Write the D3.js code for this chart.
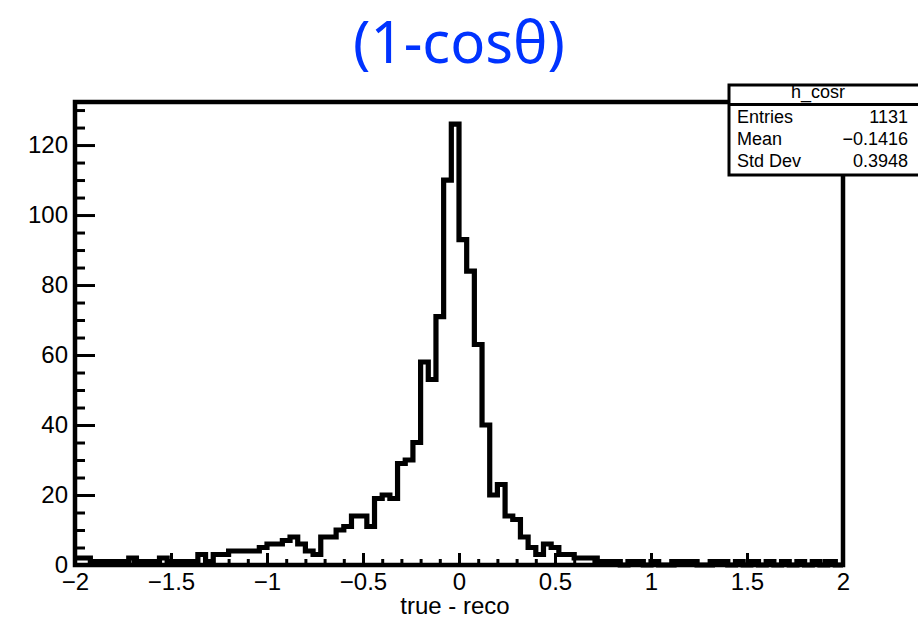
<!DOCTYPE html>
<html>
<head>
<meta charset="utf-8">
<script src="https://cdn.jsdelivr.net/npm/d3@7"></script>
<style>
  html, body { margin: 0; padding: 0; background: #fff; }
  svg { display: block; }
</style>
</head>
<body>
<svg id="chart" width="918" height="624"></svg>
<script>
// ---- data ----
const binLow = -2, binHigh = 2, nBins = 100;
const counts = [
  2,2,1,1,1,1,1,2,1,1, 1,2,1,1,1,1,3,1,3,3,
  4,4,4,4,5,6,6,7,8,6, 4,3,8,8,10,11,14,14,11,19,
  20,19,29,30,35,58,53,71,110,126, 93,84,63,40,20,23,14,13,8,5,
  3,6,5,3,3,2,2,2,1,1, 1,0,1,1,0,1,0,0,1,1,
  1,0,0,1,1,0,1,0,1,0, 1,0,1,0,1,0,1,0,1,0
];
const xMajorTicks = [-2, -1.5, -1, -0.5, 0, 0.5, 1, 1.5, 2];
const xTickLabels = ["\u22122", "\u22121.5", "\u22121", "\u22120.5", "0", "0.5", "1", "1.5", "2"];
const yMajorTicks = [0, 20, 40, 60, 80, 100, 120];
const titleText = "(1-cos\u03b8)";
const xTitle = "true - reco";
const statsName = "h_cosr";
const statsLabels = ["Entries", "Mean", "Std Dev"];
const statsValues = ["1131", "\u22120.1416", "0.3948"];

// ---- layout ----
const svg = d3.select("#chart");
const L = 75, R = 843, T = 102, B = 565;
const yMax = 126 * 1.05;
const x = d3.scaleLinear().domain([binLow, binHigh]).range([L, R]);
const y = d3.scaleLinear().domain([0, yMax]).range([B, T]);
const font = "'Liberation Sans', Arial, Helvetica, sans-serif";

svg.append("rect").attr("width", 918).attr("height", 624).attr("fill", "#fff");

// histogram step path
const bw = (binHigh - binLow) / nBins;
let d = "";
counts.forEach((c, i) => {
  const x0 = x(binLow + i * bw), x1 = x(binLow + (i + 1) * bw);
  d += (i === 0 ? "M" : "L") + x0 + "," + y(c) + "L" + x1 + "," + y(c);
});
svg.append("path").attr("d", d).attr("fill", "none")
  .attr("stroke", "#000").attr("stroke-width", 5.2).attr("stroke-linejoin", "miter");

// axes
const yMinor = d3.range(0, yMax, 5).filter(v => v % 20 !== 0);
const yAxisMinor = d3.axisLeft(y).tickValues(yMinor).tickSize(-10).tickFormat("");
const yAxis = d3.axisLeft(y).tickValues(yMajorTicks).tickSize(-20).tickPadding(7).tickFormat(d3.format("d"));
const xMinor = d3.range(-20, 21).map(v => v / 10).filter(v => Math.abs(v * 2 - Math.round(v * 2)) > 1e-9);
const xAxisMinor = d3.axisBottom(x).tickValues(xMinor).tickSize(-6).tickFormat("");
const xAxis = d3.axisBottom(x).tickValues(xMajorTicks).tickSize(-12).tickPadding(8)
  .tickFormat((v, i) => xTickLabels[i]);

function styleAxis(g) {
  g.select(".domain").remove();
  g.selectAll("line").attr("stroke", "#000").attr("stroke-width", 3);
  g.selectAll("text").attr("fill", "#000").style("font-family", font).style("font-size", "24px");
}
svg.append("g").attr("transform", `translate(${L},0)`).call(yAxisMinor).call(styleAxis);
svg.append("g").attr("transform", `translate(${L},0)`).call(yAxis).call(styleAxis);
svg.append("g").attr("transform", `translate(0,${B})`).call(xAxisMinor).call(styleAxis);
svg.append("g").attr("transform", `translate(0,${B})`).call(xAxis).call(styleAxis);

// frame
svg.append("rect").attr("x", L).attr("y", T).attr("width", R - L).attr("height", B - T)
  .attr("fill", "none").attr("stroke", "#000").attr("stroke-width", 4.5);

// x title
svg.append("text").attr("x", 455).attr("y", 614).attr("text-anchor", "middle")
  .style("font-family", font).style("font-size", "24px").attr("fill", "#000").text(xTitle);

// title
svg.append("text").attr("x", 459).attr("y", 63).attr("text-anchor", "middle")
  .style("font-family", "'Noto Sans', 'Open Sans', sans-serif").style("font-size", "58px")
  .attr("fill", "#0033ff").text(titleText);

// stats box
const bx = 729, by = 85, bx2 = 921, by2 = 175;
svg.append("rect").attr("x", bx).attr("y", by).attr("width", bx2 - bx).attr("height", by2 - by)
  .attr("fill", "#fff").attr("stroke", "#000").attr("stroke-width", 3);
svg.append("line").attr("x1", bx).attr("x2", bx2).attr("y1", 104.5).attr("y2", 104.5)
  .attr("stroke", "#000").attr("stroke-width", 3);
svg.append("text").attr("x", 818).attr("y", 98).attr("text-anchor", "middle")
  .style("font-family", font).style("font-size", "18px").text(statsName);
const rowY = [123, 145, 167];
statsLabels.forEach((lab, i) => {
  svg.append("text").attr("x", 737).attr("y", rowY[i]).style("font-family", font)
    .style("font-size", "18px").text(lab);
  svg.append("text").attr("x", 908).attr("y", rowY[i]).attr("text-anchor", "end")
    .style("font-family", font).style("font-size", "18px").text(statsValues[i]);
});
</script>
</body>
</html>
